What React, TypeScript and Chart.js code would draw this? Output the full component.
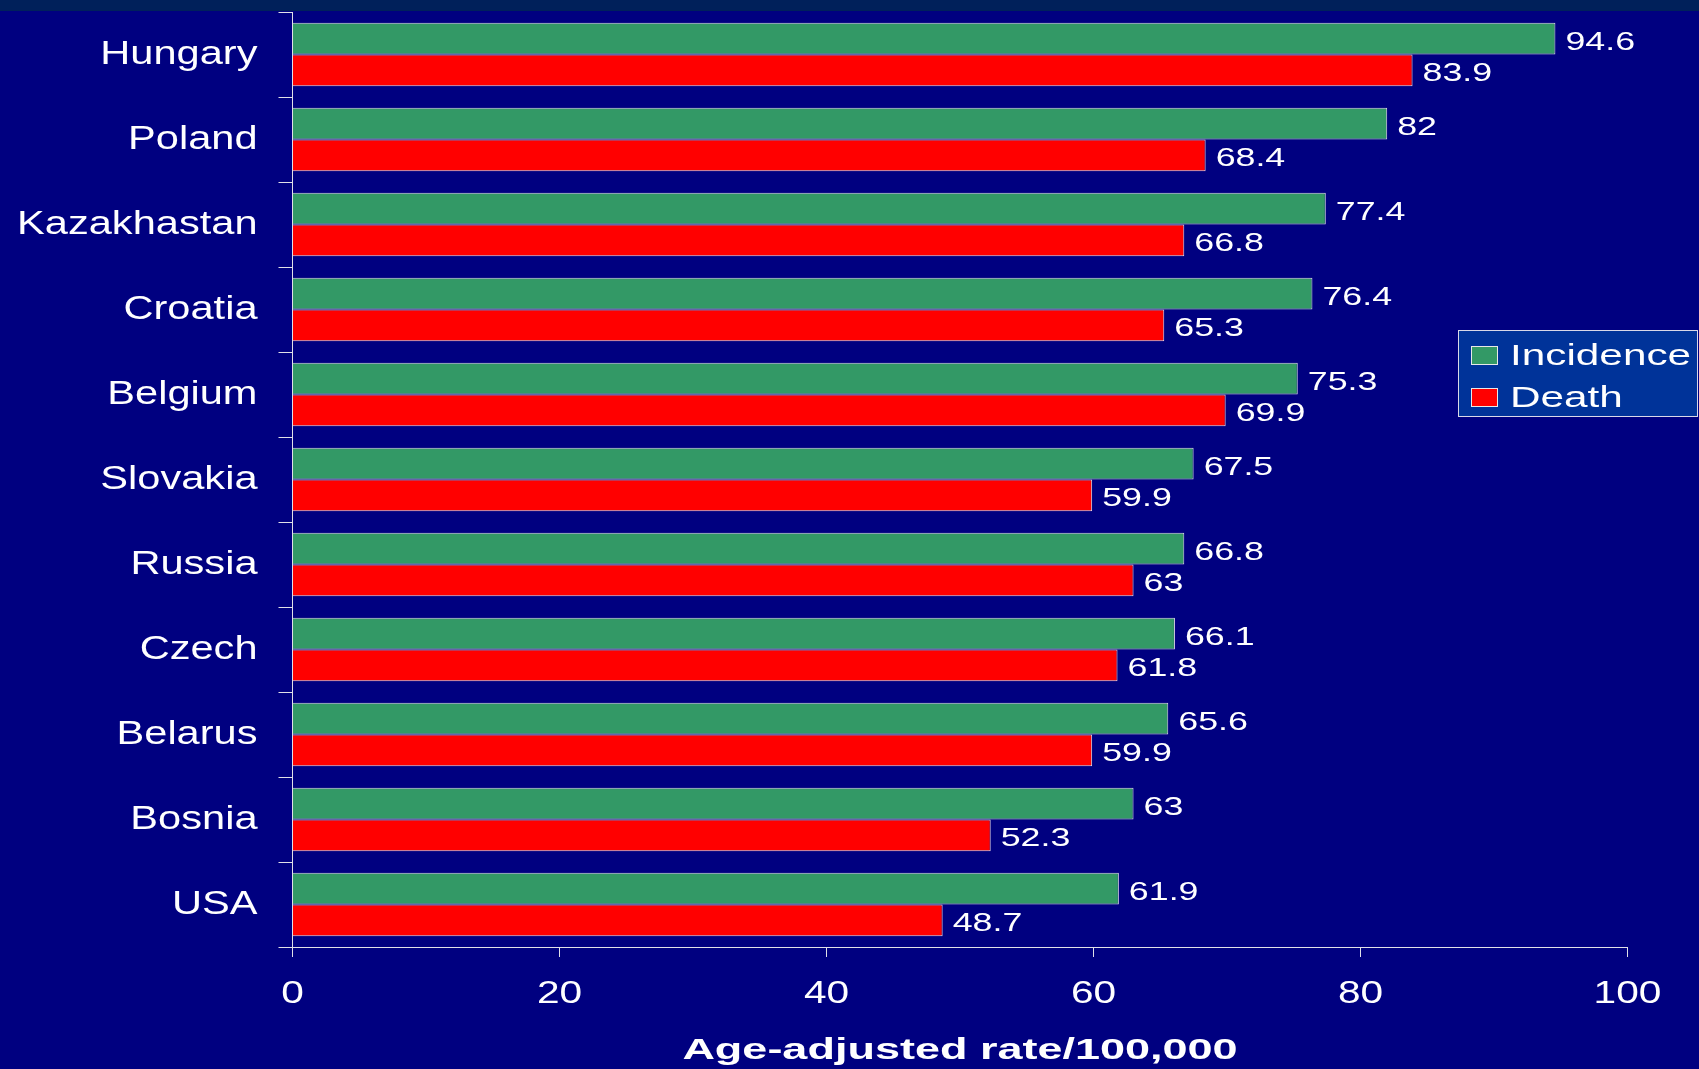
import { useEffect, useRef } from "react";
import { Chart, registerables } from "chart.js";

Chart.register(...registerables);

const countries = [
  "Hungary",
  "Poland",
  "Kazakhastan",
  "Croatia",
  "Belgium",
  "Slovakia",
  "Russia",
  "Czech",
  "Belarus",
  "Bosnia",
  "USA",
];
const incidence = [94.6, 82, 77.4, 76.4, 75.3, 67.5, 66.8, 66.1, 65.6, 63, 61.9];
const death = [83.9, 68.4, 66.8, 65.3, 69.9, 59.9, 63, 61.8, 59.9, 52.3, 48.7];
const xTicks = [0, 20, 40, 60, 80, 100];
const seriesNames = ["Incidence", "Death"];
const seriesColors = ["#339966", "#ff0000"];
const axisTitle = "Age-adjusted rate/100,000";

const W = 1699;
const H = 1069;
const FONT = '"Liberation Sans", Arial, sans-serif';
const NAVY = "#000080";
const LINE = "#e0e0e8";

function stretchText(
  ctx: CanvasRenderingContext2D,
  text: string,
  x: number,
  y: number,
  size: number,
  weight: string,
  sx: number,
  align: CanvasTextAlign
) {
  ctx.save();
  ctx.translate(x, y);
  ctx.scale(sx, 1);
  ctx.font = `${weight} ${size}px ${FONT}`;
  ctx.fillStyle = "#ffffff";
  ctx.textAlign = align;
  ctx.textBaseline = "alphabetic";
  ctx.fillText(text, 0, 0);
  ctx.restore();
}

const decorPlugin = {
  id: "decor",
  beforeDraw(chart: any) {
    const ctx = chart.ctx as CanvasRenderingContext2D;
    ctx.save();
    ctx.fillStyle = NAVY;
    ctx.fillRect(0, 0, chart.width, chart.height);
    ctx.fillStyle = "#00205a";
    ctx.fillRect(0, 0, chart.width, 11);
    ctx.restore();
  },
  afterDraw(chart: any) {
    const ctx = chart.ctx as CanvasRenderingContext2D;
    const xs = chart.scales.x;
    const ys = chart.scales.y;
    const area = chart.chartArea;

    // category labels
    countries.forEach((c, i) => {
      const cy = ys.getPixelForValue(i);
      stretchText(ctx, c, 257.5, cy + 9.5, 33, "normal", 1.26, "right");
    });

    // value labels
    chart.data.datasets.forEach((ds: any, di: number) => {
      const meta = chart.getDatasetMeta(di);
      meta.data.forEach((bar: any, i: number) => {
        stretchText(ctx, String(ds.data[i]), bar.x + 10, bar.y + 11, 26.5, "normal", 1.35, "left");
      });
    });

    // x tick labels
    xTicks.forEach((t) => {
      stretchText(ctx, String(t), xs.getPixelForValue(t), 1002.5, 31, "normal", 1.31, "center");
    });

    // axis title
    stretchText(ctx, axisTitle, (area.left + area.right) / 2, 1059, 30, "bold", 1.5, "center");

    // legend
    ctx.save();
    ctx.fillStyle = "#003399";
    ctx.fillRect(1458.5, 330.5, 239, 86);
    ctx.strokeStyle = "#d8d8e8";
    ctx.lineWidth = 1;
    ctx.strokeRect(1458.5, 330.5, 239, 86);
    const rowY = [346.5, 388.5];
    seriesNames.forEach((name, i) => {
      ctx.fillStyle = seriesColors[i];
      ctx.fillRect(1471.5, rowY[i], 26, 18);
      ctx.strokeStyle = "#e8e8e8";
      ctx.strokeRect(1471.5, rowY[i], 26, 18);
      stretchText(ctx, name, 1510, rowY[i] + 18.5, 30, "normal", 1.41, "left");
    });
    ctx.restore();
  },
};

export default function App() {
  const ref = useRef<HTMLCanvasElement | null>(null);

  useEffect(() => {
    document.body.style.margin = "0";
    document.body.style.background = NAVY;
    const canvas = ref.current;
    if (!canvas) return;
    const chart = new Chart(canvas, {
      type: "bar",
      data: {
        labels: countries,
        datasets: [
          {
            label: seriesNames[0],
            data: incidence,
            backgroundColor: seriesColors[0],
            borderColor: "rgba(235,235,235,0.95)",
            borderWidth: 1,
            categoryPercentage: 0.746,
            barPercentage: 1,
          },
          {
            label: seriesNames[1],
            data: death,
            backgroundColor: seriesColors[1],
            borderColor: "rgba(255,235,235,0.95)",
            borderWidth: 1,
            categoryPercentage: 0.746,
            barPercentage: 1,
          },
        ],
      },
      options: {
        indexAxis: "y",
        animation: false,
        responsive: false,
        maintainAspectRatio: false,
        devicePixelRatio: 1,
        layout: { padding: { left: 278.5, top: 12, right: 71.5, bottom: 112 } },
        plugins: {
          legend: { display: false },
          tooltip: { enabled: false },
        },
        scales: {
          x: {
            type: "linear",
            min: 0,
            max: 100,
            ticks: { display: false, stepSize: 20 },
            grid: { drawOnChartArea: false, color: LINE, tickLength: 10, lineWidth: 1 },
            border: { display: true, color: LINE, width: 1 },
          },
          y: {
            type: "category",
            ticks: { display: false },
            grid: { offset: true, drawOnChartArea: false, color: LINE, tickLength: 14, lineWidth: 1 },
            border: { display: true, color: LINE, width: 1 },
          },
        },
      },
      plugins: [decorPlugin],
    });
    return () => chart.destroy();
  }, []);

  return (
    <div style={{ position: "fixed", left: 0, top: 0, width: W, height: H, background: NAVY }}>
      <canvas ref={ref} width={W} height={H} style={{ display: "block", width: W, height: H }} />
    </div>
  );
}
